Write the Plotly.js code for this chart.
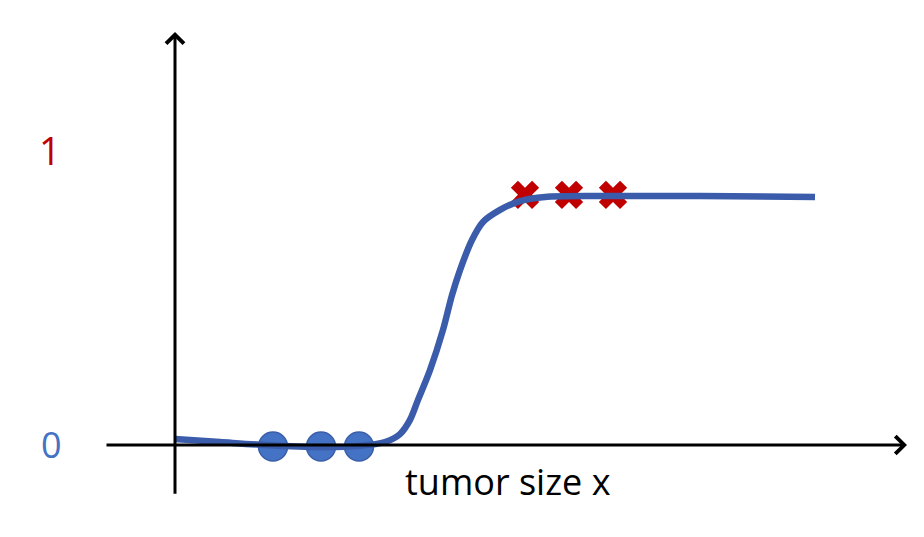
<!DOCTYPE html>
<html>
<head>
<meta charset="utf-8">
<script src="https://cdn.plot.ly/plotly-3.0.1.min.js"></script>
<style>html,body{margin:0;padding:0;background:#fff;}#chart{width:924px;height:537px;}</style>
</head>
<body>
<div id="chart"></div>
<script>
// Sigmoid-like hypothesis curve (x: tumor size, y: output)
const curveX = [0, 0.45, 0.9, 1.45, 1.85, 2.10, 2.25, 2.35, 2.43, 2.55, 2.68, 2.77, 2.85, 2.97, 3.08, 3.25, 3.45, 3.70, 4.25, 5.25, 6.40];
const curveY = [0.020, 0.010, 0.0, -0.007, -0.003, 0.010, 0.037, 0.085, 0.153, 0.254, 0.390, 0.508, 0.593, 0.695, 0.756, 0.797, 0.827, 0.841, 0.844, 0.844, 0.841];
// Negative examples (circles) and positive examples (crosses)
const negX = [0.98, 1.46, 1.84];
const negY = [-0.005, -0.005, -0.005];
const posX = [3.50, 3.94, 4.38];
const posY = [0.848, 0.848, 0.848];
// Axis labels
const yLabels = ["0", "1"];
const yLabelVals = [0, 1];
const xLabel = "tumor size x";

const traces = [
  {x: negX, y: negY, mode: 'markers', type: 'scatter',
   marker: {symbol: 'circle', size: 29, color: '#4472C4', line: {color: '#3A5FA8', width: 1.5}}},
  {x: posX, y: posY, mode: 'markers', type: 'scatter',
   marker: {symbol: 'x', size: 25, color: '#C00000', line: {width: 0}}},
  {x: curveX, y: curveY, mode: 'lines', type: 'scatter',
   line: {color: '#3A5CAA', width: 6.5, shape: 'spline', smoothing: 0.8}}
];

const annotations = [
  // y axis with arrow
  {x: 0, y: 1.40, ax: 0, ay: -0.17, xref: 'x', yref: 'y', axref: 'x', ayref: 'y',
   showarrow: true, arrowhead: 4, arrowsize: 1.15, arrowwidth: 3, arrowcolor: '#000', text: '', standoff: 0},
  // x axis with arrow
  {x: 7.32, y: 0, ax: -0.70, ay: 0, xref: 'x', yref: 'y', axref: 'x', ayref: 'y',
   showarrow: true, arrowhead: 4, arrowsize: 1.15, arrowwidth: 3, arrowcolor: '#000', text: '', standoff: 0},
  {x: -1.25, y: yLabelVals[1], text: yLabels[1], showarrow: false, xref: 'x', yref: 'y',
   font: {family: 'Open Sans', size: 38, color: '#C00000'}},
  {x: -1.24, y: yLabelVals[0], text: yLabels[0], showarrow: false, xref: 'x', yref: 'y',
   font: {family: 'Open Sans', size: 36, color: '#4472C4'}},
  {x: 3.33, y: -0.125, text: xLabel, showarrow: false, xref: 'x', yref: 'y',
   font: {family: 'Open Sans', size: 36, color: '#000'}}
];

const layout = {
  width: 924, height: 537,
  margin: {l: 0, r: 0, t: 0, b: 0, pad: 0},
  paper_bgcolor: '#fff', plot_bgcolor: '#fff',
  showlegend: false,
  xaxis: {range: [-1.75, 7.49], visible: false, fixedrange: true},
  yaxis: {range: [-0.3119, 1.5085], visible: false, fixedrange: true},
  annotations: annotations
};

Plotly.newPlot('chart', traces, layout, {displayModeBar: false, staticPlot: true});
</script>
</body>
</html>
